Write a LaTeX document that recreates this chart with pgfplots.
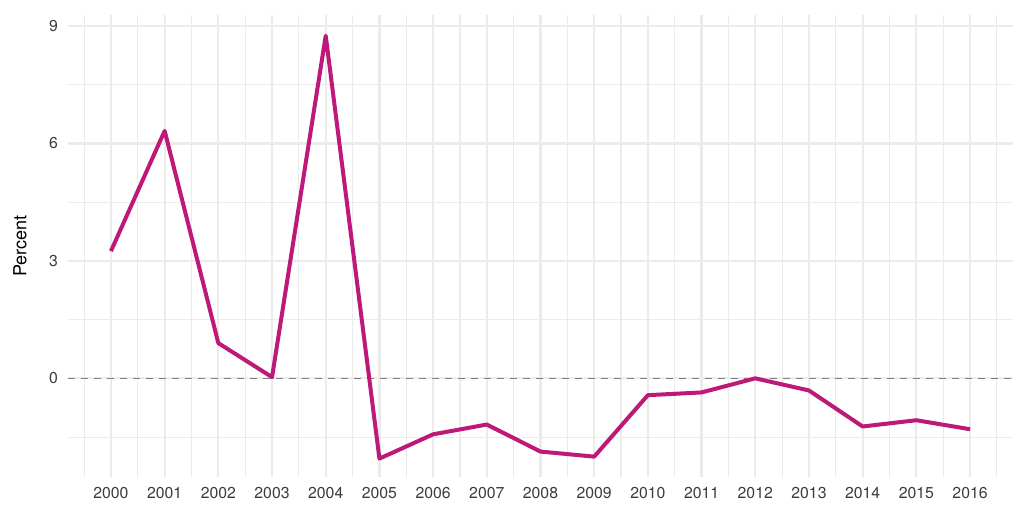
\documentclass[border=0pt]{standalone}
\usepackage{fontspec}
\setmainfont{TeX Gyre Heros}
\usepackage{pgfplots}
\pgfplotsset{compat=1.18}
\definecolor{linec}{RGB}{190,24,120}
\definecolor{gridc}{RGB}{235,235,235}
\definecolor{tickc}{RGB}{60,60,60}
\begin{document}
\begin{tikzpicture}
\path[use as bounding box] (0,0) rectangle (512pt,258pt);
\begin{axis}[
  at={(34pt,19.5pt)}, anchor=south west,
  scale only axis, width=472.5pt, height=231pt,
  xmin=1999.2, xmax=2016.8, ymin=-2.52, ymax=9.28,
  axis line style={draw=none},
  xtick={2000,2001,...,2016},
  minor xtick={1999.5,2000.5,...,2016.5},
  ytick={0,3,6,9},
  minor ytick={-1.5,1.5,4.5,7.5},
  grid=both,
  major grid style={draw=gridc, line width=1.1pt},
  minor grid style={draw=gridc, line width=0.55pt},
  major tick length=0pt, minor tick length=0pt,
  tick style={draw=none},
  /pgf/number format/assume math mode=true,
  /pgf/number format/1000 sep={},
  ticklabel style={font=\fontsize{7.9}{9}\selectfont, text=tickc},
  xticklabel style={yshift=-1.5pt},
  yticklabel style={xshift=-1.5pt},
  ylabel={Percent},
  ylabel style={font=\fontsize{9}{11}\selectfont, text=black, at={(axis description cs:0,0.5)}, anchor=center, yshift=24pt},
  clip=false,
]
\addplot[draw=gray, line width=0.7pt, dash pattern=on 3.5pt off 3pt] coordinates {(1999.2,0) (2016.8,0)};
\addplot[draw=linec, line width=2pt, line join=round] coordinates {
(2000,3.25) (2001,6.32) (2002,0.90) (2003,0.03) (2004,8.75) (2005,-2.05)
(2006,-1.43) (2007,-1.18) (2008,-1.87) (2009,-2.00) (2010,-0.43) (2011,-0.36)
(2012,0.00) (2013,-0.31) (2014,-1.23) (2015,-1.07) (2016,-1.30)};
\end{axis}
\end{tikzpicture}
\end{document}
